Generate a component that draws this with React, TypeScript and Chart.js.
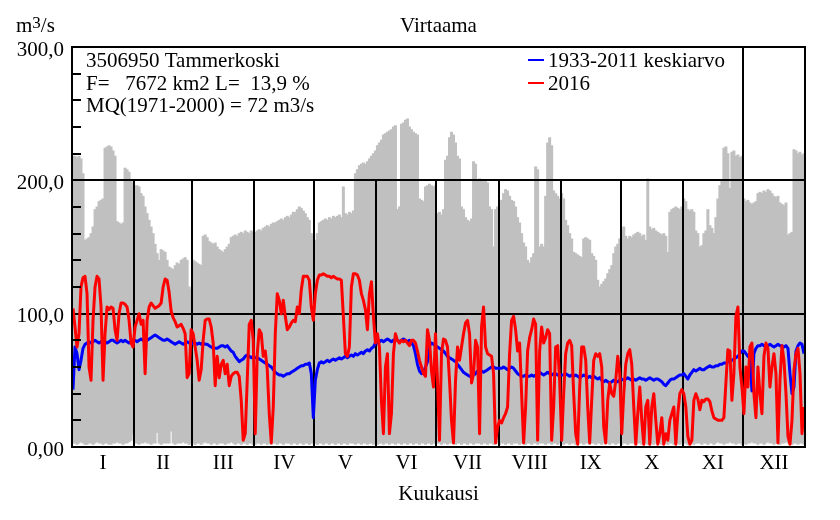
import React, { useEffect, useRef } from "react";
import { Chart, registerables } from "chart.js";

Chart.register(...registerables);

const FONT = '"Liberation Serif", "Times New Roman", serif';
const FS = 21;

const monthLabels = ["I", "II", "III", "IV", "V", "VI", "VII", "VIII", "IX", "X", "XI", "XII"];
const monthDays = [31, 29, 31, 30, 31, 30, 31, 31, 30, 31, 30, 31];

const chartTitle = "Virtaama";
const unitLabel = ["m", "3", "/s"];
const xAxisTitle = "Kuukausi";
const infoLines = ["3506950 Tammerkoski", "F=   7672 km2 L=  13,9 %", "MQ(1971-2000) = 72 m3/s"];
const seriesNames = ["1933-2011 keskiarvo", "2016"];
const yTickValues = [0, 100, 200, 300];
const yTickLabels = ["0,00", "100,0", "200,0", "300,0"];

// Historical daily maximum (upper edge of grey band), m3/s
const maxJan = [218, 218, 217, 218, 216, 205, 155, 156, 157, 160, 165, 178, 180, 184, 185, 186, 224, 225, 226, 225, 222, 218, 169, 168, 167, 168, 209, 208, 206, 200, 198];
const maxFeb = [196, 196, 195, 190, 188, 180, 175, 170, 165, 160, 152, 145, 140, 148, 147, 146, 140, 135, 134, 133, 136, 138, 137, 140, 141, 142, 140, 120, 118];
const maxMar = [140, 139, 138, 137, 136, 158, 159, 157, 154, 153, 152, 153, 150, 148, 147, 146, 148, 150, 152, 157, 158, 159, 158, 160, 161, 160, 162, 161, 160, 162, 161];
const maxApr = [161, 162, 163, 162, 164, 165, 166, 165, 167, 168, 168, 169, 170, 171, 170, 172, 173, 172, 174, 176, 176, 178, 180, 179, 177, 175, 172, 170, 160, 158];
const maxMay = [155, 160, 168, 169, 170, 171, 170, 172, 171, 173, 172, 173, 174, 172, 195, 175, 174, 176, 175, 177, 205, 208, 211, 212, 213, 212, 214, 216, 218, 220, 222];
const maxJun = [226, 228, 230, 234, 235, 236, 237, 238, 240, 241, 178, 180, 242, 243, 245, 246, 240, 238, 236, 235, 234, 186, 185, 184, 195, 196, 197, 196, 195, 196];
const maxJul = [175, 176, 174, 178, 215, 218, 232, 236, 234, 228, 218, 216, 180, 178, 172, 170, 169, 171, 214, 212, 200, 201, 200, 199, 200, 198, 180, 178, 150, 178, 180];
const maxAug = [178, 185, 190, 193, 192, 188, 185, 184, 180, 172, 168, 160, 153, 150, 140, 138, 142, 145, 210, 208, 150, 152, 150, 188, 228, 232, 226, 192, 190, 188, 186];
const maxSep = [190, 186, 170, 166, 160, 156, 146, 145, 144, 143, 142, 156, 157, 156, 155, 145, 143, 140, 125, 120, 122, 124, 126, 130, 133, 136, 145, 150, 152, 156];
const maxOct = [162, 165, 158, 156, 158, 157, 159, 160, 161, 160, 158, 159, 155, 201, 165, 163, 164, 162, 161, 160, 159, 160, 158, 146, 176, 178, 179, 180, 179, 178, 180];
const maxNov = [186, 184, 178, 177, 178, 176, 162, 160, 150, 151, 160, 162, 178, 166, 164, 160, 172, 186, 196, 200, 224, 225, 220, 194, 221, 222, 218, 219, 217, 218];
const maxDec = [186, 184, 185, 183, 182, 183, 184, 190, 191, 190, 192, 191, 193, 192, 190, 188, 187, 188, 183, 182, 181, 183, 159, 160, 161, 223, 222, 220, 221, 219, 220];

// Historical daily minimum (lower edge of grey band), m3/s
const minJan = [3, 3, 2, 3, 4, 3, 2, 2, 3, 3, 2, 3, 4, 3, 3, 2, 3, 3, 2, 2, 3, 3, 4, 3, 3, 2, 3, 3, 4, 5, 10];
const minFeb = [3, 3, 2, 3, 3, 4, 3, 3, 2, 3, 3, 11, 3, 2, 3, 3, 3, 3, 12, 3, 2, 3, 3, 3, 4, 3, 3, 2, 3];
const minMar = [3, 2, 3, 3, 2, 3, 4, 3, 3, 2, 3, 3, 2, 3, 3, 3, 2, 3, 3, 4, 3, 2, 3, 3, 2, 3, 3, 2, 3, 3, 2];
const minApr = [2, 3, 3, 2, 3, 3, 2, 3, 2, 3, 3, 2, 3, 3, 2, 3, 3, 3, 2, 3, 3, 2, 3, 3, 2, 3, 3, 2, 3, 3];
const minMay = [3, 2, 3, 3, 2, 3, 3, 2, 3, 3, 2, 3, 3, 2, 3, 3, 2, 3, 3, 3, 2, 3, 3, 2, 3, 3, 2, 3, 3, 2, 3];
const minJun = [2, 3, 3, 2, 3, 3, 2, 3, 3, 2, 3, 3, 2, 3, 3, 2, 3, 3, 2, 3, 3, 2, 3, 3, 2, 3, 3, 2, 3, 3];
const minJul = [3, 3, 2, 3, 3, 2, 3, 3, 3, 2, 3, 3, 2, 3, 3, 2, 3, 3, 2, 3, 3, 3, 2, 3, 3, 2, 3, 3, 2, 3, 3];
const minAug = [2, 3, 3, 2, 3, 3, 2, 3, 3, 3, 2, 3, 3, 2, 3, 3, 2, 3, 3, 2, 3, 3, 3, 2, 3, 3, 2, 3, 3, 2, 3];
const minSep = [3, 2, 3, 3, 2, 3, 3, 2, 3, 3, 3, 2, 3, 3, 2, 3, 3, 2, 3, 3, 2, 3, 3, 3, 2, 3, 3, 2, 3, 3];
const minOct = [2, 3, 3, 2, 3, 3, 3, 2, 3, 3, 2, 3, 3, 2, 3, 3, 2, 3, 3, 3, 2, 3, 3, 2, 3, 3, 2, 3, 3, 2, 3];
const minNov = [3, 3, 2, 3, 3, 2, 3, 3, 3, 2, 3, 3, 2, 3, 3, 2, 3, 4, 3, 3, 2, 3, 3, 4, 3, 3, 2, 3, 3, 2];
const minDec = [3, 2, 3, 3, 4, 3, 3, 2, 3, 3, 2, 3, 4, 3, 3, 2, 3, 3, 2, 3, 3, 4, 3, 3, 2, 3, 3, 2, 3, 3, 2];

// 1933-2011 daily mean, m3/s
const meanJan = [43, 75, 70, 58, 65, 74, 77, 78, 79, 78, 79, 80, 79, 78, 79, 80, 79, 78, 79, 80, 80, 79, 78, 79, 80, 79, 80, 79, 78, 79, 80];
const meanFeb = [80, 79, 80, 81, 80, 79, 80, 81, 82, 83, 84, 83, 82, 81, 80, 80, 81, 80, 79, 78, 77, 78, 79, 78, 77, 78, 79, 78, 77];
const meanMar = [78, 78, 77, 78, 77, 78, 77, 77, 76, 75, 74, 74, 74, 75, 76, 76, 75, 76, 74, 72, 71, 68, 66, 64, 65, 66, 68, 69, 68, 67, 68];
const meanApr = [67, 67, 66, 65, 64, 63, 62, 61, 60, 58, 56, 55, 54, 54, 53, 54, 55, 55, 56, 57, 58, 59, 60, 61, 61, 62, 62, 63, 55, 22];
const meanMay = [50, 58, 63, 64, 63, 64, 65, 64, 65, 66, 65, 66, 67, 66, 67, 68, 67, 68, 69, 68, 70, 69, 70, 71, 70, 72, 73, 72, 74, 75, 78];
const meanJun = [78, 79, 80, 79, 80, 81, 80, 79, 80, 81, 80, 79, 80, 81, 80, 79, 80, 78, 76, 70, 62, 57, 55, 56, 60, 64, 76, 78, 77, 76];
const meanJul = [75, 74, 73, 72, 70, 68, 67, 66, 65, 64, 62, 60, 58, 56, 55, 54, 53, 53, 54, 55, 57, 58, 57, 56, 57, 58, 59, 60, 60, 59, 59];
const meanAug = [59, 59, 60, 59, 58, 59, 60, 59, 57, 55, 54, 53, 53, 54, 53, 53, 54, 53, 54, 55, 56, 55, 54, 55, 56, 55, 54, 55, 55, 54, 54];
const meanSep = [54, 54, 55, 54, 53, 54, 53, 54, 53, 52, 53, 54, 53, 52, 53, 52, 53, 52, 51, 52, 50, 49, 50, 49, 48, 49, 50, 49, 49, 50];
const meanOct = [51, 50, 51, 52, 51, 50, 51, 50, 51, 52, 51, 51, 50, 51, 52, 51, 50, 51, 51, 50, 49, 47, 46, 48, 50, 51, 51, 52, 53, 54, 54];
const meanNov = [55, 53, 51, 54, 56, 58, 57, 58, 59, 58, 58, 59, 60, 61, 60, 60, 61, 61, 62, 62, 63, 63, 64, 64, 65, 66, 67, 68, 70, 72];
const meanDec = [72, 70, 68, 69, 42, 70, 74, 76, 76, 77, 76, 75, 76, 77, 76, 75, 76, 77, 76, 76, 75, 76, 74, 55, 40, 45, 72, 76, 78, 77, 70];

// 2016 daily discharge, m3/s
const y16Jan = [104, 90, 75, 85, 120, 127, 128, 115, 60, 50, 95, 120, 128, 126, 105, 50, 85, 105, 103, 105, 104, 88, 80, 100, 108, 108, 107, 105, 95, 78, 75];
const y16Feb = [90, 95, 100, 92, 95, 55, 95, 105, 108, 106, 104, 105, 106, 108, 120, 126, 125, 116, 102, 97, 94, 90, 91, 92, 89, 85, 52, 55, 88];
const y16Mar = [85, 75, 65, 50, 58, 80, 95, 96, 96, 90, 78, 46, 68, 52, 62, 65, 55, 62, 46, 53, 55, 56, 56, 53, 35, 5, 10, 50, 92, 95, 80];
const y16Apr = [10, 70, 88, 85, 68, 72, 58, 25, 3, 30, 85, 115, 110, 100, 110, 98, 88, 90, 93, 95, 94, 105, 100, 118, 128, 128, 128, 125, 105, 95];
const y16May = [115, 125, 129, 129, 130, 129, 128, 128, 127, 128, 127, 126, 126, 125, 98, 70, 68, 75, 120, 130, 130, 129, 125, 115, 110, 103, 88, 115, 124, 98, 78];
const y16Jun = [85, 75, 35, 10, 60, 70, 10, 25, 70, 85, 80, 78, 80, 79, 80, 78, 76, 80, 80, 78, 72, 65, 60, 55, 53, 88, 80, 57, 45, 85];
const y16Jul = [50, 5, 70, 81, 80, 75, 50, 20, 3, 50, 75, 65, 75, 85, 93, 95, 85, 48, 55, 80, 75, 10, 90, 105, 75, 70, 69, 68, 55, 3, 15];
const y16Aug = [20, 18, 22, 25, 30, 70, 95, 98, 88, 72, 78, 40, 3, 30, 72, 82, 88, 96, 92, 5, 72, 90, 78, 82, 88, 85, 5, 30, 75, 76, 50];
const y16Sep = [5, 40, 70, 78, 80, 76, 40, 10, 2, 45, 75, 75, 65, 30, 3, 35, 65, 70, 68, 70, 60, 15, 3, 35, 48, 40, 38, 50, 68, 55];
const y16Oct = [10, 40, 62, 70, 73, 62, 30, 2, 25, 45, 20, 2, 30, 35, 2, 30, 40, 20, 2, 10, 22, 2, 10, 5, 20, 25, 30, 2, 25, 40, 43];
const y16Nov = [40, 30, 8, 2, 5, 35, 40, 36, 28, 35, 34, 36, 36, 34, 27, 22, 21, 20, 20, 20, 22, 48, 73, 72, 35, 55, 98, 105, 60, 45];
const y16Dec = [25, 60, 45, 75, 78, 40, 22, 60, 40, 25, 68, 78, 74, 45, 60, 70, 55, 3, 50, 76, 65, 40, 8, 2, 20, 58, 70, 74, 55, 10, 30];

const histMax = [...maxJan, ...maxFeb, ...maxMar, ...maxApr, ...maxMay, ...maxJun, ...maxJul, ...maxAug, ...maxSep, ...maxOct, ...maxNov, ...maxDec];
const histMin = [...minJan, ...minFeb, ...minMar, ...minApr, ...minMay, ...minJun, ...minJul, ...minAug, ...minSep, ...minOct, ...minNov, ...minDec];
const meanQ = [...meanJan, ...meanFeb, ...meanMar, ...meanApr, ...meanMay, ...meanJun, ...meanJul, ...meanAug, ...meanSep, ...meanOct, ...meanNov, ...meanDec];
const q2016 = [...y16Jan, ...y16Feb, ...y16Mar, ...y16Apr, ...y16May, ...y16Jun, ...y16Jul, ...y16Aug, ...y16Sep, ...y16Oct, ...y16Nov, ...y16Dec];

const BLUE = "#0000FF";
const RED = "#FF0000";
const GREY = "#C0C0C0";

export default function App() {
  const ref = useRef<HTMLCanvasElement | null>(null);

  useEffect(() => {
    const canvas = ref.current;
    if (!canvas) return;

    const bounds: number[] = [0];
    monthDays.forEach((d) => bounds.push(bounds[bounds.length - 1] + d));
    const totalDays = bounds[bounds.length - 1];
    const mids = monthLabels.map((_, i) => (bounds[i] + bounds[i + 1]) / 2);

    const fontMain = `${FS}px ${FONT}`;

    const overlay = {
      id: "overlay",
      afterDatasetDraw(chart: any, args: any) {
        if (args.index !== 0) return;
        const { ctx, chartArea: a, scales } = chart;
        const x = scales.x;
        const y = scales.y;
        ctx.save();
        ctx.strokeStyle = "#000";
        ctx.lineWidth = 2;
        ctx.beginPath();
        [100, 200].forEach((v) => {
          const py = Math.round(y.getPixelForValue(v));
          ctx.moveTo(a.left, py);
          ctx.lineTo(a.right, py);
        });
        for (let i = 1; i < 12; i++) {
          const px = Math.round(x.getPixelForValue(bounds[i]));
          ctx.moveTo(px, y.getPixelForValue(0));
          ctx.lineTo(px, Math.round(y.getPixelForValue(200)));
        }
        const pxDec = Math.round(x.getPixelForValue(bounds[11]));
        ctx.moveTo(pxDec, Math.round(y.getPixelForValue(200)));
        ctx.lineTo(pxDec, y.getPixelForValue(300));
        ctx.stroke();
        ctx.restore();
      },
      afterDraw(chart: any) {
        const { ctx, chartArea: a, scales } = chart;
        const y = scales.y;
        ctx.save();
        ctx.strokeStyle = "#000";
        ctx.lineWidth = 2;
        ctx.strokeRect(a.left, a.top, a.right - a.left, a.bottom - a.top);
        ctx.beginPath();
        for (let v = 20; v < 300; v += 20) {
          if (v % 100 === 0) continue;
          const py = Math.round(y.getPixelForValue(v));
          ctx.moveTo(a.left, py);
          ctx.lineTo(a.left + 9, py);
        }
        ctx.stroke();

        ctx.fillStyle = "#000";
        ctx.textBaseline = "alphabetic";
        ctx.font = fontMain;
        ctx.textAlign = "center";
        ctx.fillText(chartTitle, (a.left + a.right) / 2, 32);
        ctx.textAlign = "left";
        let ux = 16;
        ctx.fillText(unitLabel[0], ux, 32);
        ux += ctx.measureText(unitLabel[0]).width;
        ctx.font = `17px ${FONT}`;
        ctx.fillText(unitLabel[1], ux, 28);
        ux += ctx.measureText(unitLabel[1]).width;
        ctx.font = fontMain;
        ctx.fillText(unitLabel[2], ux, 32);
        const infoBase = [67, 90, 112];
        infoLines.forEach((t, i) => ctx.fillText(t, 86, infoBase[i]));
        const legendColors = [BLUE, RED];
        const legendBase = [67, 90];
        seriesNames.forEach((t, i) => {
          ctx.strokeStyle = legendColors[i];
          ctx.lineWidth = 2;
          ctx.beginPath();
          ctx.moveTo(528, legendBase[i] - 7);
          ctx.lineTo(544, legendBase[i] - 7);
          ctx.stroke();
          ctx.fillStyle = "#000";
          ctx.fillText(t, 548, legendBase[i]);
        });
        ctx.restore();
      },
    };

    const chart = new Chart(canvas, {
      type: "line",
      data: {
        datasets: [
          {
            type: "bar",
            label: "range",
            data: histMax.map((v, i) => ({ x: i + 0.5, y: [histMin[i], v] })) as any,
            backgroundColor: GREY,
            borderWidth: 0,
            barPercentage: 1,
            categoryPercentage: 1,
            inflateAmount: 0.5,
            grouped: false,
            order: 3,
          } as any,
          {
            type: "line",
            label: seriesNames[0],
            data: meanQ.map((v, i) => ({ x: i + 0.5, y: v })),
            borderColor: BLUE,
            borderWidth: 3,
            pointRadius: 0,
            tension: 0,
            borderJoinStyle: "round",
            order: 2,
          },
          {
            type: "line",
            label: seriesNames[1],
            data: q2016.map((v, i) => ({ x: i + 0.5, y: v })),
            borderColor: RED,
            borderWidth: 3,
            pointRadius: 0,
            tension: 0,
            borderJoinStyle: "round",
            order: 1,
          },
        ],
      },
      options: {
        responsive: false,
        animation: false,
        events: [],
        layout: { padding: { left: 0, top: 47, right: 35, bottom: 0 } },
        plugins: {
          legend: { display: false },
          title: { display: false },
          tooltip: { enabled: false },
        },
        scales: {
          x: {
            type: "linear",
            min: 0,
            max: totalDays,
            offset: false,
            grid: { display: false, drawTicks: false, offset: false },
            border: { display: false },
            afterBuildTicks: (s: any) => {
              s.ticks = mids.map((v) => ({ value: v }));
            },
            afterFit: (s: any) => {
              s.height = 73;
              s.paddingLeft = 0;
              s.paddingRight = 0;
            },
            ticks: {
              autoSkip: false,
              maxRotation: 0,
              minRotation: 0,
              padding: 4,
              color: "#000",
              font: { family: FONT, size: FS },
              callback: (_v: any, i: number) => monthLabels[i],
            },
            title: {
              display: true,
              text: xAxisTitle,
              color: "#000",
              font: { family: FONT, size: FS },
              padding: { top: 0, bottom: 13 },
            },
          },
          y: {
            type: "linear",
            min: 0,
            max: 300,
            grid: { display: false, drawTicks: false },
            border: { display: false },
            afterBuildTicks: (s: any) => {
              s.ticks = yTickValues.map((v) => ({ value: v }));
            },
            afterFit: (s: any) => {
              s.width = 72;
              s.paddingTop = 0;
              s.paddingBottom = 0;
            },
            ticks: {
              padding: 8,
              labelOffset: 3,
              color: "#000",
              font: { family: FONT, size: FS },
              callback: (_v: any, i: number) => yTickLabels[i],
            },
          },
        },
      } as any,
      plugins: [overlay],
    });

    return () => chart.destroy();
  }, []);

  return (
    <div style={{ position: "absolute", left: 0, top: 0, width: 840, height: 520, background: "#fff" }}>
      <canvas ref={ref} width={840} height={520} style={{ display: "block" }} />
    </div>
  );
}
